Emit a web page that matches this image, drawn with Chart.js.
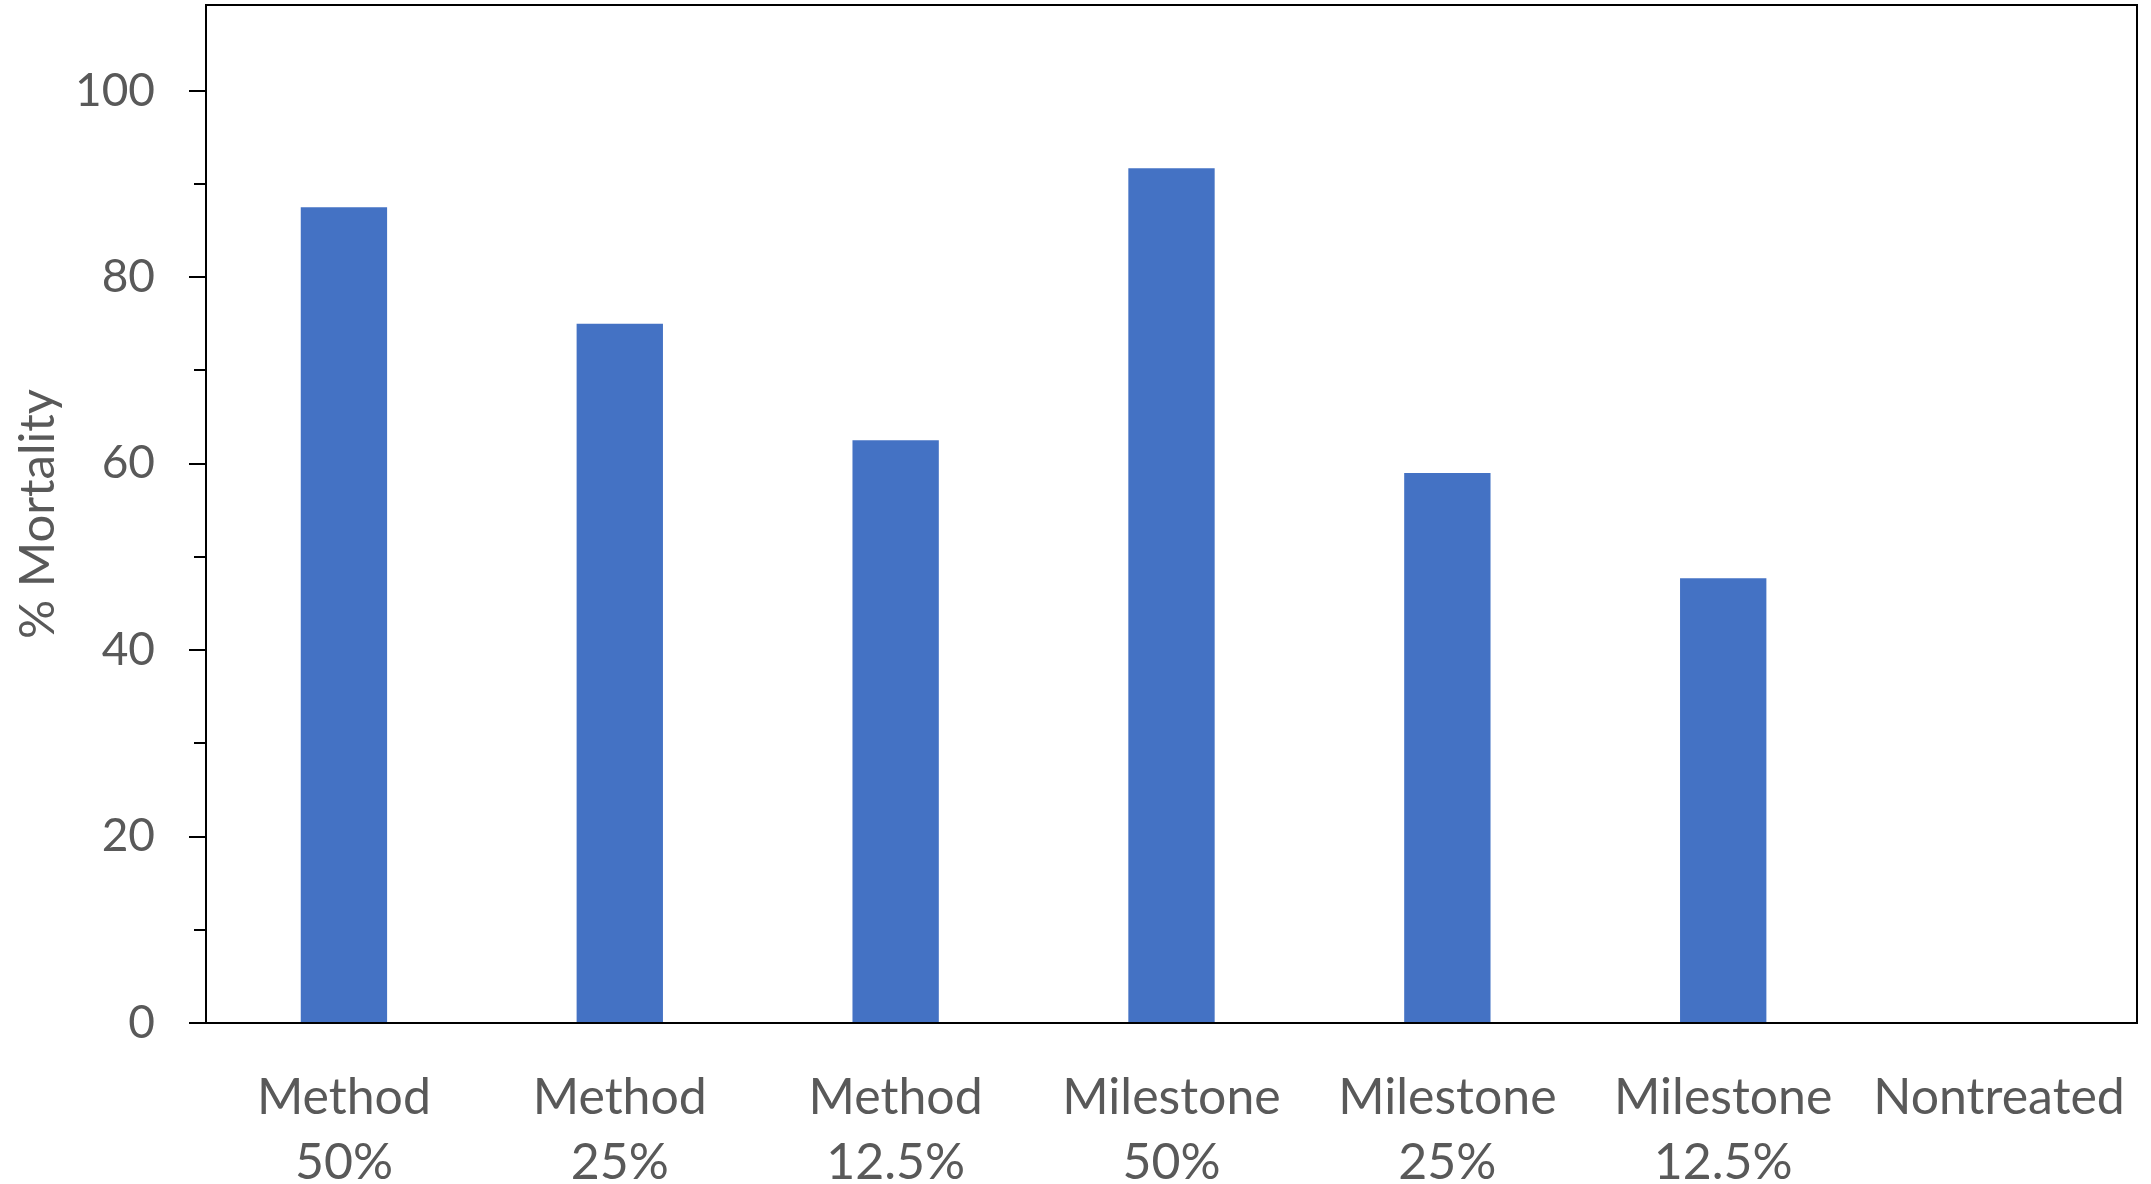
<!DOCTYPE html>
<html>
<head>
<meta charset="utf-8">
<script src="https://cdn.jsdelivr.net/npm/chart.js@4/dist/chart.umd.min.js"></script>
<style>
html, body { margin: 0; padding: 0; background: #fff; overflow: hidden; }
</style>
</head>
<body>
<canvas id="myChart" width="2151" height="1184"></canvas>
<script>
// data
var categories = [['Method', '50%'], ['Method', '25%'], ['Method', '12.5%'],
                  ['Milestone', '50%'], ['Milestone', '25%'], ['Milestone', '12.5%'], ['Nontreated']];
var mortality = [87.5, 75, 62.5, 91.7, 59, 47.7, 0];
var yTicks = [0, 20, 40, 60, 80, 100];
var yMinorTicks = [10, 30, 50, 70, 90];

var textColor = '#595959';
var fontFamily = 'Lato, "Open Sans", sans-serif';

// minor ticks on the y axis + the top/right edge of the plot box
var frame = {
    id: 'frame',
    afterDraw: function (chart) {
        var ctx = chart.ctx, y = chart.scales.y, a = chart.chartArea;
        ctx.save();
        ctx.strokeStyle = '#000';
        ctx.lineWidth = 2;
        yMinorTicks.forEach(function (v) {
            var py = Math.round(y.getPixelForValue(v));
            ctx.beginPath();
            ctx.moveTo(a.left - 12, py);
            ctx.lineTo(a.left, py);
            ctx.stroke();
        });
        ctx.beginPath();
        ctx.moveTo(a.left, a.top);
        ctx.lineTo(a.right, a.top);
        ctx.lineTo(a.right, a.bottom);
        ctx.stroke();
        ctx.restore();
    }
};

var ctx = document.getElementById('myChart').getContext('2d');

var chart = new Chart(ctx, {
    type: 'bar',
    data: {
        labels: categories,
        datasets: [{
            label: '% Mortality',
            backgroundColor: '#4472C4',
            data: mortality,
            categoryPercentage: 1,
            barPercentage: 0.313
        }]
    },
    options: {
        responsive: false,
        animation: false,
        layout: { padding: { top: 5, right: 14, left: 0, bottom: 0 } },
        plugins: { legend: { display: false }, tooltip: { enabled: false } },
        scales: {
            x: {
                grid: { display: false },
                border: { display: true, color: '#000', width: 2 },
                ticks: {
                    color: textColor,
                    font: { family: fontFamily, size: 50, lineHeight: 1.3 },
                    padding: 34,
                    maxRotation: 0,
                    autoSkip: false
                },
                afterFit: function (scale) {
                    scale.height = 161;
                    scale.paddingLeft = 0;
                    scale.paddingRight = 0;
                }
            },
            y: {
                min: 0,
                max: 109.2,
                afterBuildTicks: function (scale) {
                    scale.ticks = yTicks.map(function (v) { return { value: v }; });
                },
                grid: { drawOnChartArea: false, drawTicks: true, tickLength: 17, color: '#000', lineWidth: 2 },
                border: { display: true, color: '#000', width: 2 },
                ticks: {
                    color: textColor,
                    font: { family: fontFamily, size: 46 },
                    padding: 34
                },
                title: {
                    display: true,
                    text: '% Mortality',
                    color: textColor,
                    font: { family: fontFamily, size: 49 },
                    padding: { top: 9, bottom: 0 }
                },
                afterFit: function (scale) {
                    scale.width = 206;
                    scale.paddingTop = 0;
                    scale.paddingBottom = 0;
                }
            }
        }
    },
    plugins: [frame]
});
</script>
</body>
</html>
